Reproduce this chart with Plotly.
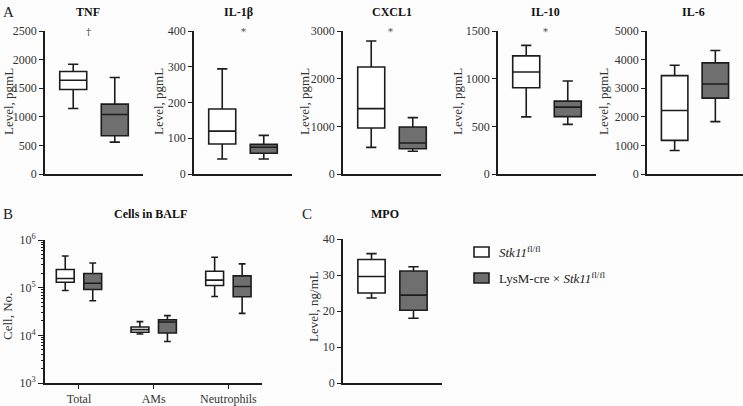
import plotly.graph_objects as go

# ---------------- data ----------------
cytokines = ["TNF", "IL-1β", "CXCL1", "IL-10", "IL-6"]
cyto_ymax = [2500, 400, 3000, 1500, 5000]
cyto_dtick = [500, 100, 1000, 500, 1000]
cyto_sig = ["†", "*", "*", "*", ""]

wt_low = [1145, 42, 559, 599, 822]
wt_q1 = [1477, 84, 965, 905, 1174]
wt_med = [1640, 120, 1371, 1070, 2218]
wt_q3 = [1791, 182, 2245, 1239, 3439]
wt_high = [1919, 294, 2790, 1349, 3803]

ko_low = [558, 42, 476, 521, 1831]
ko_q1 = [669, 58, 531, 602, 2653]
ko_med = [1041, 75, 650, 701, 3146]
ko_q3 = [1221, 83, 986, 764, 3885]
ko_high = [1686, 108, 1182, 975, 4319]

cell_types = ["Total", "AMs", "Neutrophils"]
cells_wt_low = [87500, 10700, 65500]
cells_wt_q1 = [130000, 11600, 111000]
cells_wt_med = [156000, 13200, 144000]
cells_wt_q3 = [240000, 15000, 221000]
cells_wt_high = [462000, 19400, 434000]
cells_ko_low = [53000, 7400, 28900]
cells_ko_q1 = [91600, 11200, 64400]
cells_ko_med = [124000, 19000, 106000]
cells_ko_q3 = [198000, 21300, 177000]
cells_ko_high = [330000, 25900, 315000]

mpo_label = ["MPO"]
mpo_wt = [23.6, 25.0, 29.6, 34.3, 35.95]   # low, q1, median, q3, high
mpo_ko = [18.0, 20.2, 24.4, 31.1, 32.3]

group_names = ["<i>Stk11</i><sup>fl/fl</sup>", "LysM-cre × <i>Stk11</i><sup>fl/fl</sup>"]

# ---------------- style ----------------
W, H = 743, 406
FONT = "Liberation Serif"
LINE = "#1c1c1c"
GRAY = "#6f6f6f"
BG = "#fdfdfd"


def fx(p):
    return p / W


def fy(p):
    return 1 - p / H


fig = go.Figure()
layout = {}
annotations = []


def label(text, px, py, size=12, color="#222", angle=0, xanchor="center"):
    annotations.append(dict(text=text, x=fx(px), y=fy(py), xref="paper", yref="paper",
                            xanchor=xanchor, yanchor="middle", showarrow=False, textangle=angle,
                            font=dict(family=FONT, size=size, color=color)))


def add_box(ax, xcat, low, q1, med, q3, high, fill, grp):
    xa = "x" if ax == 1 else f"x{ax}"
    ya = "y" if ax == 1 else f"y{ax}"
    fig.add_trace(go.Box(
        x=xcat, lowerfence=low, q1=q1, median=med, q3=q3, upperfence=high,
        offsetgroup=grp, fillcolor=fill, line=dict(color=LINE, width=1.6),
        whiskerwidth=0.38, boxpoints=False, showlegend=False,
        xaxis=xa, yaxis=ya, hoverinfo="skip"))


def axis_common():
    return dict(showline=True, linecolor=LINE, linewidth=1.6, showgrid=False, automargin=False,
                zeroline=False, tickfont=dict(family=FONT, size=12, color="#333"))


# Panel A
ax_x0 = [45, 194, 343, 498, 647]
ylab_x = [8, 158, 304, 457, 603]
title_x = [88, 238, 392, 545, 693]
sig_shift = [-6, 0, -2, -2, 0]
for i, name in enumerate(cytokines):
    ax = i + 1
    add_box(ax, [name], [wt_low[i]], [wt_q1[i]], [wt_med[i]], [wt_q3[i]], [wt_high[i]], "white", "wt")
    add_box(ax, [name], [ko_low[i]], [ko_q1[i]], [ko_med[i]], [ko_q3[i]], [ko_high[i]], GRAY, "ko")
    x1 = min(ax_x0[i] + 98, W)
    xk = "xaxis" if ax == 1 else f"xaxis{ax}"
    yk = "yaxis" if ax == 1 else f"yaxis{ax}"
    ya_name = "y" if ax == 1 else f"y{ax}"
    xa_name = "x" if ax == 1 else f"x{ax}"
    layout[xk] = dict(axis_common(), domain=[fx(ax_x0[i]), fx(x1)], anchor=ya_name,
                      showticklabels=False, ticks="", range=[-0.434, 0.434], type="category")
    layout[yk] = dict(axis_common(), domain=[fy(174), fy(31)], anchor=xa_name,
                      range=[0, cyto_ymax[i]], dtick=cyto_dtick[i], ticks="outside",
                      ticklen=4, tickwidth=1.4, tickcolor=LINE)
    label(f"<b>{name}</b>", title_x[i], 12, size=12, color="#111")
    label("Level, pgmL", ylab_x[i], 102, size=13, color="#333", angle=-90)
    if cyto_sig[i]:
        annotations.append(dict(text=cyto_sig[i], x=name, y=cyto_ymax[i], xref=xa_name, yref=ya_name,
                                xanchor="center", yanchor="middle", yshift=-1, xshift=sig_shift[i],
                                showarrow=False, font=dict(family="DejaVu Serif", size=10, color="#444444")))

# Panel B
add_box(6, cell_types, cells_wt_low, cells_wt_q1, cells_wt_med, cells_wt_q3, cells_wt_high, "white", "wt")
add_box(6, cell_types, cells_ko_low, cells_ko_q1, cells_ko_med, cells_ko_q3, cells_ko_high, GRAY, "ko")
minor_vals = [k * 10 ** n for n in range(3, 6) for k in range(2, 10)]
layout["xaxis6"] = dict(axis_common(), domain=[fx(45), fx(262)], anchor="y6", type="category",
                        range=[-0.455, 2.45], ticks="outside", ticklen=4, tickwidth=1.4, tickcolor=LINE)
layout["yaxis6"] = dict(axis_common(), domain=[fy(383), fy(240)], anchor="x6", type="log",
                        range=[3, 6], tickvals=[1e3, 1e4, 1e5, 1e6],
                        ticktext=["10<sup>3</sup>", "10<sup>4</sup>", "10<sup>5</sup>", "10<sup>6</sup>"],
                        ticks="outside", ticklen=5, tickwidth=1.4, tickcolor=LINE)
# overlay axis carrying the minor log ticks
layout["yaxis8"] = dict(domain=[fy(383), fy(240)], anchor="x6", overlaying="y6", type="log",
                        range=[3, 6], tickvals=minor_vals, ticks="outside", ticklen=3, tickwidth=1,
                        tickcolor=LINE, showticklabels=False, showline=False, showgrid=False,
                        zeroline=False, automargin=False)
fig.add_trace(go.Scatter(x=[cell_types[0]], y=[1e4], xaxis="x6", yaxis="y8", mode="markers",
                         marker=dict(opacity=0), showlegend=False, hoverinfo="skip"))
label("<b>Cells in BALF</b>", 150, 214, size=12, color="#111")
label("Cell, No.", 7, 317, size=13, color="#333", angle=-90)

# Panel C
add_box(7, mpo_label, [mpo_wt[0]], [mpo_wt[1]], [mpo_wt[2]], [mpo_wt[3]], [mpo_wt[4]], "white", "wt")
add_box(7, mpo_label, [mpo_ko[0]], [mpo_ko[1]], [mpo_ko[2]], [mpo_ko[3]], [mpo_ko[4]], GRAY, "ko")
layout["xaxis7"] = dict(axis_common(), domain=[fx(343), fx(442)], anchor="y7", type="category",
                        range=[-0.434, 0.434], showticklabels=False, ticks="")
layout["yaxis7"] = dict(axis_common(), domain=[fy(383), fy(239)], anchor="x7", range=[0, 40],
                        dtick=10, ticks="outside", ticklen=4, tickwidth=1.4, tickcolor=LINE)
label("<b>MPO</b>", 385, 214, size=12, color="#111")
label("Level, ng/mL", 313, 307, size=13, color="#333", angle=-90)

# Panel letters
for lab, px, py in [("A", 8, 12), ("B", 8, 214), ("C", 307, 214)]:
    label(lab, px, py, size=15, color="#222")

# Legend (drawn manually)
shapes = []
for j, (fill, py) in enumerate([("white", 252), (GRAY, 278)]):
    shapes.append(dict(type="rect", xref="paper", yref="paper", x0=fx(474), x1=fx(489),
                       y0=fy(py + 5), y1=fy(py - 5), fillcolor=fill, line=dict(color=LINE, width=1.6)))
    label(group_names[j], 497, py, size=13, color="#222", xanchor="left")

fig.update_layout(
    width=W, height=H, margin=dict(l=0, r=0, t=0, b=0),
    paper_bgcolor=BG, plot_bgcolor=BG,
    boxmode="group", boxgap=0.264, boxgroupgap=0.35,
    annotations=annotations, shapes=shapes, showlegend=False,
    **layout)

fig.write_html("out.html", config={"displayModeBar": False},
               post_script="document.body.style.margin='0';document.body.style.overflow='hidden';")
